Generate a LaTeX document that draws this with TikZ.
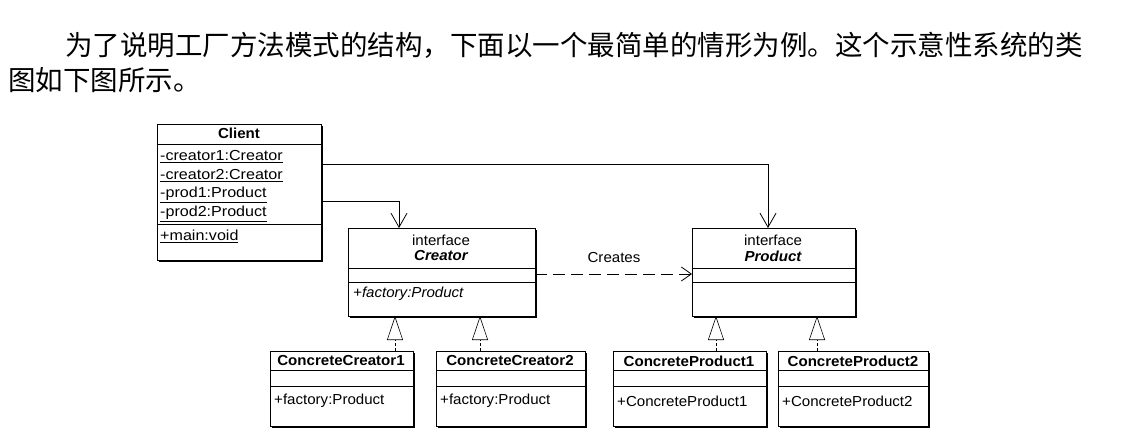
\documentclass[tikz,border=0pt]{standalone}
\usepackage{fontspec}
\setmainfont{Liberation Sans}[FakeStretch=1.04]
\newfontfamily\widefont{Liberation Sans}[FakeStretch=1.11]
\newfontfamily\cjk{Noto Sans CJK SC}
\usetikzlibrary{arrows.meta,shadows}
\begin{document}
\begin{tikzpicture}[x=1pt,y=-1pt,
  box/.style={draw,line width=0.9pt,fill=white,inner sep=0pt,outer sep=0pt,anchor=north west,
    drop shadow={shadow xshift=2pt,shadow yshift=-2pt,opacity=1,fill=black}},
  sep/.style={line width=0.8pt},
  txt/.style={inner sep=0pt,font=\fontsize{14.5}{16}\selectfont},
  lt/.style={txt,anchor=west},
  ct/.style={txt,anchor=center},
  attr/.style={lt,font=\widefont\fontsize{14.5}{16}\selectfont},
  title/.style={ct,font=\bfseries\fontsize{14.5}{16}\selectfont},
  ititle/.style={ct,font=\bfseries\itshape\fontsize{14.5}{16}\selectfont},
  cjkline/.style={anchor=west,inner sep=0pt,font=\cjk\fontsize{27.5}{30}\selectfont},
  assoc/.style={line width=0.8pt,-{Straight Barb[length=14pt,width=16pt,line width=0.8pt]}},
  creates/.style={line width=0.8pt,dash pattern=on 12pt off 6pt,-{Straight Barb[length=10pt,width=14pt,line width=0.8pt]}},
  impl/.style={line width=0.6pt,dash pattern=on 3pt off 2pt,-{Triangle[open,length=24pt,width=16pt,line width=0.6pt]}}
]
\useasboundingbox (0,0) rectangle (1139,446);

% Chinese text
\node[cjkline] (t1) at (65,45) {为了说明工厂方法模式的结构，下面以一个最简单的情形为例。这个示意性系统的类};
\node[cjkline] (t2) at (8,80) {图如下图所示。};

% Client
\node[box,minimum width=164pt,minimum height=136pt] (client) at (157,124) {};
\draw[sep] (157,144) -- (321,144);
\draw[sep] (157,224) -- (321,224);
\node[title] (clientname) at (239,133) {Client};
\node[attr] (a1) at (160,157) {\underline{-creator1:Creator}};
\node[attr] (a2) at (160,176) {\underline{-creator2:Creator}};
\node[attr] (a3) at (160,195) {\underline{-prod1:Product}};
\node[attr] (a4) at (160,214) {\underline{-prod2:Product}};
\node[attr] (m1) at (160,236) {\underline{+main:void}};

% Creator
\node[box,minimum width=187pt,minimum height=88pt] (creator) at (348,228) {};
\draw[sep] (348,268) -- (535,268);
\draw[sep] (348,282) -- (535,282);
\node[ct] (ci) at (441,240) {interface};
\node[ititle] (cn) at (441,256) {Creator};
\node[lt,font=\itshape\fontsize{14.5}{16}\selectfont] (cm) at (353,294) {+factory:Product};

% Product
\node[box,minimum width=163pt,minimum height=88pt] (product) at (692,228) {};
\draw[sep] (692,268) -- (855,268);
\draw[sep] (692,282) -- (855,282);
\node[ct] (pi) at (773,240) {interface};
\node[ititle] (pn) at (773,256) {Product};

% Concrete classes
\node[box,minimum width=143pt,minimum height=75pt] (cc1) at (270,351) {};
\draw[sep] (270,370) -- (413,370);
\draw[sep] (270,386) -- (413,386);
\node[title] (cc1n) at (341,361) {ConcreteCreator1};
\node[lt] (cc1m) at (274,401) {+factory:Product};

\node[box,minimum width=149pt,minimum height=75pt] (cc2) at (436,351) {};
\draw[sep] (436,370) -- (585,370);
\draw[sep] (436,386) -- (585,386);
\node[title] (cc2n) at (510,361) {ConcreteCreator2};
\node[lt] (cc2m) at (440,401) {+factory:Product};

\node[box,minimum width=153pt,minimum height=75pt] (cp1) at (613,351) {};
\draw[sep] (613,370) -- (766,370);
\draw[sep] (613,386) -- (766,386);
\node[title] (cp1n) at (689,361) {ConcreteProduct1};
\node[lt] (cp1m) at (617,401) {+ConcreteProduct1};

\node[box,minimum width=150pt,minimum height=75pt] (cp2) at (778,351) {};
\draw[sep] (778,370) -- (928,370);
\draw[sep] (778,386) -- (928,386);
\node[title] (cp2n) at (853,361) {ConcreteProduct2};
\node[lt] (cp2m) at (782,401) {+ConcreteProduct2};

% connector helper coordinates
\coordinate (k1) at (399,201);
\coordinate (k2) at (768,164);
\coordinate (k3) at (0,274);
\coordinate (i1) at (395,0);
\coordinate (i2) at (480,0);
\coordinate (i3) at (716,0);
\coordinate (i4) at (817,0);

% associations
\draw[assoc] (client.east |- k1) -| (creator.north -| k1);
\draw[assoc] (client.east |- k2) -| (product.north -| k2);
% creates
\draw[creates] (creator.east |- k3) -- (product.west |- k3);
\node[ct] (lbl) at (614,258) {Creates};
% realizations
\draw[impl] (cc1.north -| i1) -- (creator.south -| i1);
\draw[impl] (cc2.north -| i2) -- (creator.south -| i2);
\draw[impl] (cp1.north -| i3) -- (product.south -| i3);
\draw[impl] (cp2.north -| i4) -- (product.south -| i4);
\end{tikzpicture}
\end{document}
